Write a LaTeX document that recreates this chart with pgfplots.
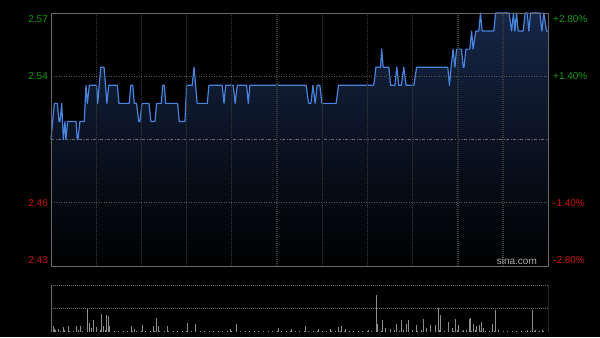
\documentclass[border=0pt]{standalone}
\usepackage{fontspec}
\setmainfont{Liberation Sans}
\usepackage{pgfplots}
\usepackage{pgfplotstable}
\pgfplotsset{compat=1.18}
\definecolor{framegray}{RGB}{105,105,105}
\definecolor{gridgray}{RGB}{58,58,58}
\definecolor{hgridgray}{RGB}{85,85,85}
\definecolor{lineblue}{RGB}{72,132,222}
\definecolor{filltop}{RGB}{22,38,70}
\definecolor{labgreen}{RGB}{20,155,20}
\definecolor{labred}{RGB}{205,15,15}
\definecolor{volgray}{RGB}{140,140,140}
\definecolor{vgridgray}{RGB}{110,110,110}

\pgfplotstableread{
m p
0 2.50
2.2 2.52
4.2 2.52
5.3 2.51
6.0 2.51
7.1 2.52
8.2 2.50
9.3 2.51
9.9 2.50
11.1 2.51
16.6 2.51
17.4 2.50
17.9 2.50
19.2 2.51
22.1 2.51
23.2 2.53
24.1 2.52
25.4 2.53
30.3 2.53
31.0 2.52
33.0 2.54
35.2 2.54
37.1 2.52
38.3 2.53
44.0 2.53
45.1 2.52
51.9 2.52
52.9 2.53
54.2 2.53
55.3 2.52
56.8 2.52
58.2 2.51
59.0 2.51
60.4 2.52
65.0 2.52
66.3 2.51
69.0 2.51
70.1 2.52
73.2 2.52
74.1 2.53
75.2 2.53
76.1 2.52
84.0 2.52
85.1 2.51
88.9 2.51
90.0 2.53
93.7 2.53
94.9 2.54
97.0 2.52
103.7 2.52
104.8 2.53
113.6 2.53
114.8 2.52
115.9 2.53
120.9 2.53
122.2 2.52
123.6 2.53
129.8 2.53
130.9 2.52
132.0 2.53
169.3 2.53
170.9 2.52
172.5 2.52
173.8 2.53
175.3 2.52
176.6 2.53
178.4 2.53
179.8 2.52
189.2 2.52
190.8 2.53
214.2 2.53
215.6 2.54
218.7 2.54
219.4 2.55
220.4 2.54
224.2 2.54
225.3 2.53
228.2 2.53
229.5 2.54
230.8 2.53
232.5 2.53
234.1 2.54
235.6 2.53
240.8 2.53
242.6 2.54
263.3 2.54
264.4 2.53
265.5 2.54
266.8 2.55
268.0 2.54
269.1 2.55
272.4 2.55
273.5 2.54
274.1 2.54
275.3 2.55
277.9 2.55
279.1 2.56
280.1 2.55
281.9 2.56
283.9 2.56
285.0 2.57
286.1 2.56
293.9 2.56
295.0 2.57
304.0 2.57
305.6 2.56
306.9 2.57
307.8 2.56
308.9 2.57
310.0 2.56
313.3 2.56
314.6 2.57
316.0 2.57
317.1 2.56
318.2 2.57
324.4 2.57
325.7 2.56
327.0 2.57
328.8 2.56
329.7 2.56
}\pricetable

\pgfplotstableread{
m v
1.3 0.12
2.5 0.07
5.1 0.07
8.0 0.10
11.3 0.12
16.8 0.12
19.7 0.12
23.9 0.50
25.2 0.20
26.7 0.09
28.1 0.25
30.0 0.10
33.4 0.38
34.5 0.12
36.7 0.36
37.8 0.33
38.9 0.12
53.3 0.12
55.5 0.06
60.4 0.14
68.3 0.12
70.1 0.30
71.4 0.12
77.6 0.12
90.4 0.20
96.0 0.18
119.2 0.07
122.9 0.17
150.6 0.08
159.4 0.06
168.7 0.12
177.6 0.06
185.3 0.06
190.8 0.10
192.6 0.12
195.5 0.06
210.9 0.05
215.8 0.78
216.9 0.16
219.8 0.26
221.7 0.09
225.3 0.07
229.5 0.18
232.4 0.25
235.7 0.18
237.5 0.26
242.6 0.14
247.4 0.28
248.9 0.08
251.9 0.14
254.9 0.14
257.2 0.52
258.5 0.37
263.8 0.21
266.2 0.09
268.2 0.28
270.6 0.14
274.0 0.05
277.5 0.28
278.4 0.30
280.4 0.18
282.6 0.12
284.4 0.15
285.4 0.22
287.2 0.08
293.2 0.16
295.0 0.47
297.2 0.04
316.4 0.05
319.7 0.47
321.7 0.04
326.3 0.04
}\voltable

\pgfplotstableread{
m v
0 0.10
3 0.04
6 0.03
9 0.05
12 0.03
15 0.02
18 0.04
21 0.03
24 0.05
27 0.04
30 0.03
33 0.05
36 0.04
39 0.03
42 0.02
45 0.03
48 0.02
51 0.03
54 0.02
57 0.03
60 0.02
63 0.03
66 0.02
69 0.03
72 0.02
75 0.02
78 0.03
81 0.02
84 0.02
87 0.03
90 0.02
93 0.03
96 0.02
99 0.02
102 0.03
105 0.02
108 0.02
111 0.02
114 0.03
117 0.02
120 0.02
123 0.03
126 0.02
129 0.02
132 0.02
135 0.03
138 0.02
141 0.02
144 0.02
147 0.03
150 0.02
153 0.02
156 0.03
159 0.02
162 0.02
165 0.03
168 0.02
171 0.02
174 0.03
177 0.02
180 0.02
183 0.03
186 0.02
189 0.03
192 0.02
195 0.03
198 0.02
201 0.02
204 0.03
207 0.02
210 0.02
213 0.03
216 0.04
219 0.03
222 0.04
225 0.03
228 0.04
231 0.03
234 0.04
237 0.03
240 0.04
243 0.03
246 0.04
249 0.03
252 0.04
255 0.03
258 0.04
261 0.03
264 0.04
267 0.03
270 0.04
273 0.03
276 0.04
279 0.03
282 0.04
285 0.03
288 0.03
291 0.02
294 0.03
297 0.02
300 0.02
303 0.03
306 0.02
309 0.02
312 0.03
315 0.02
318 0.03
321 0.02
324 0.03
327 0.02
330 0.03
}\volbase

\begin{document}
\begin{tikzpicture}[x=1bp,y=1bp]
\fill[black] (0,0) rectangle (600,337);
% main price panel
\begin{axis}[
  at={(51bp,71bp)}, anchor=south west,
  width=497.3bp, height=253bp, scale only axis,
  xmin=0, xmax=330, ymin=2.43, ymax=2.57,
  axis on top, clip=false,
  axis line style={draw=framegray, line width=0.8bp},
  xtick={30,60,90,120,150,180,210,240,270,300},
  xticklabels={},
  ytick={2.465,2.535},
  yticklabels={},
  major tick length=0,
  xmajorgrids, ymajorgrids,
  x grid style={draw=gridgray, line width=1.3bp, dash pattern=on 1bp off 1bp},
  y grid style={draw=hgridgray, line width=0.7bp, dash pattern=on 1bp off 1.5bp},
]
\addplot[draw=none, top color=filltop, bottom color=black] table[x=m,y=p] {\pricetable} -- (axis cs:329.7,2.43) -- (axis cs:0,2.43) -- cycle;
\addplot[draw={rgb,255:red,105;green,105;blue,105}, line width=0.9bp, dash pattern=on 3bp off 1.5bp on 1bp off 1.5bp, forget plot] coordinates {(0,2.50) (330,2.50)};
\addplot[lineblue, line width=1.2bp, line join=round] table[x=m,y=p] {\pricetable};
\end{axis}
% labels
\node[anchor=east, text=labgreen, font=\fontsize{10}{12}\selectfont, inner sep=0] at (48,318) {2.57};
\node[anchor=east, text=labgreen, font=\fontsize{10}{12}\selectfont, inner sep=0] at (48,260.5) {2.54};
\node[anchor=east, text=labred, font=\fontsize{10}{12}\selectfont, inner sep=0] at (48,134) {2.46};
\node[anchor=east, text=labred, font=\fontsize{10}{12}\selectfont, inner sep=0] at (48,77) {2.43};
\node[anchor=west, text=labgreen, font=\fontsize{10}{12}\selectfont, inner sep=0] at (553,318) {+2.80\%};
\node[anchor=west, text=labgreen, font=\fontsize{10}{12}\selectfont, inner sep=0] at (553,260.5) {+1.40\%};
\node[anchor=west, text=labred, font=\fontsize{10}{12}\selectfont, inner sep=0] at (553,134) {-1.40\%};
\node[anchor=west, text=labred, font=\fontsize{10}{12}\selectfont, inner sep=0] at (553,77) {-2.80\%};
\node[anchor=east, text={rgb,255:red,175;green,175;blue,175}, font=\fontsize{10}{12}\selectfont, inner sep=0] at (537,76) {sina.com};
% volume panel
\begin{axis}[
  at={(51bp,5bp)}, anchor=south west,
  width=497.3bp, height=47bp, scale only axis,
  xmin=0, xmax=330, ymin=0, ymax=1,
  axis line style={draw=none},
  xtick=\empty,
  ytick={0.5,1}, yticklabels={},
  major tick length=0,
  ymajorgrids,
  y grid style={draw=vgridgray, line width=0.9bp, dash pattern=on 1bp off 1bp},
]
\addplot[ycomb, draw=volgray, line width=1bp, mark=none] table[x=m,y=v] {\volbase};
\addplot[ycomb, draw=volgray, line width=0.9bp, mark=none] table[x=m,y=v] {\voltable};
\draw[framegray, line width=0.8bp] (rel axis cs:0,0) -- (rel axis cs:0,1);
\draw[framegray, line width=0.8bp] (rel axis cs:1,0) -- (rel axis cs:1,1);
\end{axis}
\end{tikzpicture}
\end{document}
